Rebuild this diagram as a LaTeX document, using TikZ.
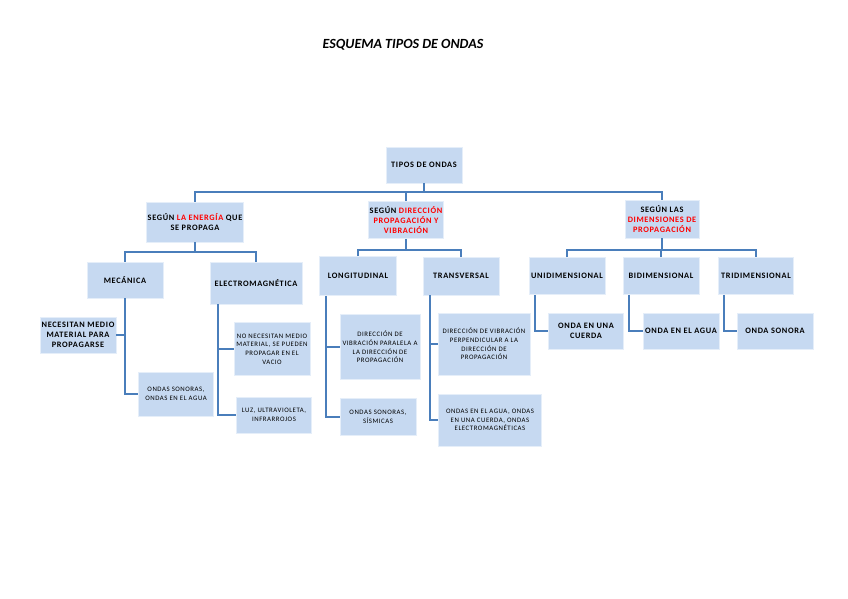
\documentclass[tikz,border=0pt]{standalone}
\usepackage{fontspec}
\setmainfont{Carlito}
\newfontfamily\cajafont[LetterSpace=8]{Carlito}
\usepackage{xcolor}
\definecolor{cajafondo}{HTML}{C6D9F1}
\definecolor{linea}{HTML}{4A7EBB}
\definecolor{rojo}{HTML}{FF0000}

\begin{document}
\begin{tikzpicture}[x=1pt,y=-1pt,
    caja/.style={fill=cajafondo, draw=white!55!cajafondo, line width=0.8pt, align=center, inner sep=1pt,
                 font=\cajafont\fontsize{8.3}{10}\selectfont\bfseries},
    hoja/.style={caja, font=\cajafont\fontsize{6.8}{8.6}\selectfont},
    conn/.style={draw=linea, line width=1.8pt}]
	\useasboundingbox (0,0) rectangle (848,599);
	
	% Titulo
	\node[font=\fontsize{14}{16}\selectfont\bfseries\itshape] (titulo) at (403,45) {ESQUEMA TIPOS DE ONDAS};
	
	% Raiz
	\node[caja, minimum width=76pt, minimum height=36pt] (tipos) at (424,165) {TIPOS DE ONDAS};
	
	% Criterios
	\node[caja, minimum width=90pt, minimum height=40pt] (energia) at (195,222) {SEGÚN \textcolor{rojo}{LA ENERGÍA} QUE\\SE PROPAGA};
	\node[caja, minimum width=75pt, minimum height=37pt] (direccion) at (406,220) {SEGÚN \textcolor{rojo}{DIRECCIÓN}\\\textcolor{rojo}{PROPAGACIÓN Y}\\\textcolor{rojo}{VIBRACIÓN}};
	\node[caja, minimum width=74pt, minimum height=38pt] (dimens) at (662,219) {SEGÚN LAS\\\textcolor{rojo}{DIMENSIONES DE}\\\textcolor{rojo}{PROPAGACIÓN}};
	
	% Segun la energia
	\node[caja, minimum width=76pt, minimum height=36pt] (mecanica) at (125,280) {MECÁNICA};
	\node[caja, minimum width=92pt, minimum height=42pt] (electro) at (256,283) {ELECTROMAGNÉTICA};
	\node[caja, minimum width=76pt, minimum height=36pt] (necesitan) at (78,335) {NECESITAN MEDIO\\MATERIAL PARA\\PROPAGARSE};
	\node[hoja, minimum width=75pt, minimum height=44pt] (sonoras) at (176,394) {ONDAS SONORAS,\\ONDAS EN EL AGUA};
	\node[hoja, minimum width=76pt, minimum height=53pt] (nonecesitan) at (272,349) {NO NECESITAN MEDIO\\MATERIAL, SE PUEDEN\\PROPAGAR EN EL\\VACIO};
	\node[hoja, minimum width=75pt, minimum height=36pt] (luz) at (274,415) {LUZ, ULTRAVIOLETA,\\INFRARROJOS};
	
	% Segun la direccion
	\node[caja, minimum width=77pt, minimum height=39pt] (long) at (358,276) {LONGITUDINAL};
	\node[caja, minimum width=76pt, minimum height=38pt] (trans) at (461,276) {TRANSVERSAL};
	\node[hoja, minimum width=80pt, minimum height=65pt] (paralela) at (380,347) {DIRECCIÓN DE\\VIBRACIÓN PARALELA A\\LA DIRECCIÓN DE\\PROPAGACIÓN};
	\node[hoja, minimum width=76pt, minimum height=37pt] (sismicas) at (378,417) {ONDAS SONORAS,\\SÍSMICAS};
	\node[hoja, minimum width=92pt, minimum height=62pt] (perpend) at (484,344) {DIRECCIÓN DE VIBRACIÓN\\PERPENDICULAR A LA\\DIRECCIÓN DE\\PROPAGACIÓN};
	\node[hoja, minimum width=103pt, minimum height=52pt] (agua) at (490,420) {ONDAS EN EL AGUA, ONDAS\\EN UNA CUERDA, ONDAS\\ELECTROMAGNÉTICAS};
	
	% Segun las dimensiones
	\node[caja, minimum width=76pt, minimum height=37pt] (uni) at (567,276) {UNIDIMENSIONAL};
	\node[caja, minimum width=76pt, minimum height=37pt] (bi) at (661,276) {BIDIMENSIONAL};
	\node[caja, minimum width=75pt, minimum height=37pt] (tri) at (756,276) {TRIDIMENSIONAL};
	\node[caja, minimum width=75pt, minimum height=36pt] (cuerda) at (586,331) {ONDA EN UNA\\CUERDA};
	\node[caja, minimum width=76pt, minimum height=36pt] (aguab) at (681,331) {ONDA EN EL AGUA};
	\node[caja, minimum width=76pt, minimum height=36pt] (sonora) at (775,331) {ONDA SONORA};
	
	% Barras
	\coordinate (j1) at (424,192);
	\coordinate (j2) at (195,252);
	\coordinate (j3) at (406,250);
	\coordinate (j4) at (662,250);
	\draw[conn] (tipos.south) -- (j1);
	\draw[conn] (energia.north) |- (j1) -| (dimens.north);
	\draw[conn] (direccion.north) -- (direccion.north |- j1);
	\draw[conn] (energia.south) -- (j2);
	\draw[conn] (mecanica.north) |- (j2) -| (electro.north);
	\draw[conn] (direccion.south) -- (j3);
	\draw[conn] (long.north) |- (j3) -| (trans.north);
	\draw[conn] (dimens.south) -- (j4);
	\draw[conn] (uni.north) |- (j4) -| (tri.north);
	\draw[conn] (bi.north) -- (bi.north |- j4);
	
	% Ramas laterales
	\draw[conn] (mecanica.south) |- (sonoras.west);
	\draw[conn] (necesitan.east) -- (necesitan.east -| mecanica.south);
	\coordinate (e1) at ([xshift=8pt]electro.south west);
	\draw[conn] (e1) |- (luz.west);
	\draw[conn] (nonecesitan.west) -- (nonecesitan.west -| e1);
	\coordinate (l1) at ([xshift=7pt]long.south west);
	\draw[conn] (l1) |- (sismicas.west);
	\draw[conn] (paralela.west) -- (paralela.west -| l1);
	\coordinate (t1) at ([xshift=7pt]trans.south west);
	\draw[conn] (t1) |- (agua.west);
	\draw[conn] (perpend.west) -- (perpend.west -| t1);
	\draw[conn] ([xshift=6pt]uni.south west) |- (cuerda.west);
	\draw[conn] ([xshift=6pt]bi.south west) |- (aguab.west);
	\draw[conn] ([xshift=6pt]tri.south west) |- (sonora.west);
\end{tikzpicture}
\end{document}
